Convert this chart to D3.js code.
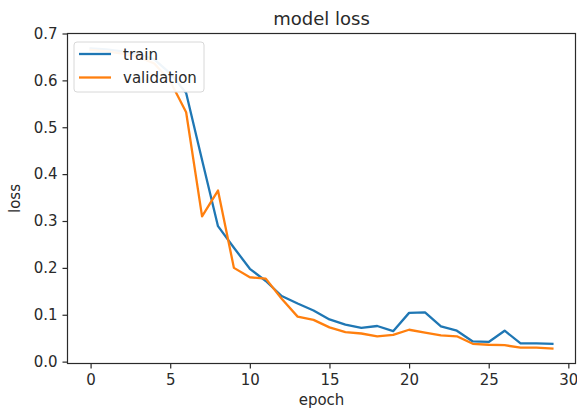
<!DOCTYPE html>
<html>
<head>
<meta charset="utf-8">
<script src="https://cdn.jsdelivr.net/npm/d3@7"></script>
<style>
  html, body { margin: 0; padding: 0; background: #fff; }
  svg { display: block; font-family: "DejaVu Sans", sans-serif; }
</style>
</head>
<body>
<svg id="chart" width="577" height="415"></svg>
<script>
// Training history: loss per epoch
const epochs = d3.range(0, 30);
const trainLoss = [0.668, 0.666, 0.662, 0.656, 0.645, 0.615, 0.573, 0.430, 0.289, 0.243,
                   0.198, 0.172, 0.140, 0.124, 0.109, 0.090, 0.079, 0.072, 0.076, 0.065,
                   0.104, 0.105, 0.075, 0.066, 0.043, 0.042, 0.066, 0.039, 0.039, 0.038];
const valLoss   = [0.665, 0.662, 0.657, 0.650, 0.636, 0.598, 0.532, 0.310, 0.365, 0.200,
                   0.180, 0.177, 0.134, 0.096, 0.089, 0.073, 0.063, 0.060, 0.054, 0.057,
                   0.068, 0.062, 0.056, 0.054, 0.038, 0.036, 0.035, 0.030, 0.030, 0.028];
const xTicks = [0, 5, 10, 15, 20, 25, 30];
const yTicks = [0.0, 0.1, 0.2, 0.3, 0.4, 0.5, 0.6, 0.7];
const seriesNames = ["train", "validation"];
const colors = ["#1f77b4", "#ff7f0e"];

const svg = d3.select("#chart");
const plot = { left: 67.5, right: 575.5, top: 33.5, bottom: 363.5 };

// autoscale with 5% margins on each side
function padded(lo, hi) { const m = (hi - lo) * 0.05; return [lo - m, hi + m]; }
const xExt = padded(d3.min(epochs), d3.max(epochs));
const allY = trainLoss.concat(valLoss);
const yExt = padded(d3.min(allY), d3.max(allY));

const x = d3.scaleLinear().domain(xExt).range([plot.left, plot.right]);
const y = d3.scaleLinear().domain(yExt).range([plot.bottom, plot.top]);

svg.append("clipPath").attr("id", "clip")
  .append("rect")
  .attr("x", plot.left).attr("y", plot.top)
  .attr("width", plot.right - plot.left).attr("height", plot.bottom - plot.top);

// lines
const line = d3.line().x((d, i) => x(epochs[i])).y(d => y(d));
[trainLoss, valLoss].forEach((s, k) => {
  svg.append("path")
    .datum(s)
    .attr("clip-path", "url(#clip)")
    .attr("fill", "none")
    .attr("stroke", colors[k])
    .attr("stroke-width", 2.3)
    .attr("stroke-linejoin", "round")
    .attr("stroke-linecap", "square")
    .attr("d", line);
});

// axes
const tickColor = "#2a2a2a";
const xAxis = d3.axisBottom(x).tickValues(xTicks).tickFormat(d3.format("d"))
  .tickSize(5).tickPadding(6);
const yAxis = d3.axisLeft(y).tickValues(yTicks).tickFormat(d3.format(".1f"))
  .tickSize(5).tickPadding(5);

const gx = svg.append("g").attr("transform", `translate(0,${plot.bottom})`).call(xAxis);
const gy = svg.append("g").attr("transform", `translate(${plot.left},0)`).call(yAxis);
[gx, gy].forEach(g => {
  g.select(".domain").remove();
  g.selectAll(".tick line").attr("stroke", tickColor).attr("stroke-width", 1.2);
  g.selectAll(".tick text").attr("fill", tickColor)
    .style("font-size", "15px").style("font-family", "DejaVu Sans, sans-serif");
});

// frame
svg.append("rect")
  .attr("x", plot.left).attr("y", plot.top)
  .attr("width", plot.right - plot.left).attr("height", plot.bottom - plot.top)
  .attr("fill", "none").attr("stroke", tickColor).attr("stroke-width", 1.2);

// title and axis labels
const cx = (plot.left + plot.right) / 2;
svg.append("text").attr("x", cx).attr("y", 25)
  .attr("text-anchor", "middle").attr("fill", tickColor)
  .style("font-size", "18px").text("model loss");
svg.append("text").attr("x", cx).attr("y", 405)
  .attr("text-anchor", "middle").attr("fill", tickColor)
  .style("font-size", "15px").text("epoch");
svg.append("text")
  .attr("transform", `translate(20,${(plot.top + plot.bottom) / 2}) rotate(-90)`)
  .attr("text-anchor", "middle").attr("fill", tickColor)
  .style("font-size", "15px").text("loss");

// legend
const lg = svg.append("g");
lg.append("rect")
  .attr("x", 74).attr("y", 42).attr("width", 130).attr("height", 50)
  .attr("rx", 3).attr("fill", "#fff").attr("fill-opacity", 0.93)
  .attr("stroke", "#d8d8d8").attr("stroke-width", 1);
seriesNames.forEach((name, i) => {
  const yy = 54 + i * 23.5;
  lg.append("line").attr("x1", 79).attr("x2", 111).attr("y1", yy).attr("y2", yy)
    .attr("stroke", colors[i]).attr("stroke-width", 2.3);
  lg.append("text").attr("x", 123).attr("y", yy + 5.5)
    .attr("fill", tickColor).style("font-size", "15px").text(name);
});
</script>
</body>
</html>
